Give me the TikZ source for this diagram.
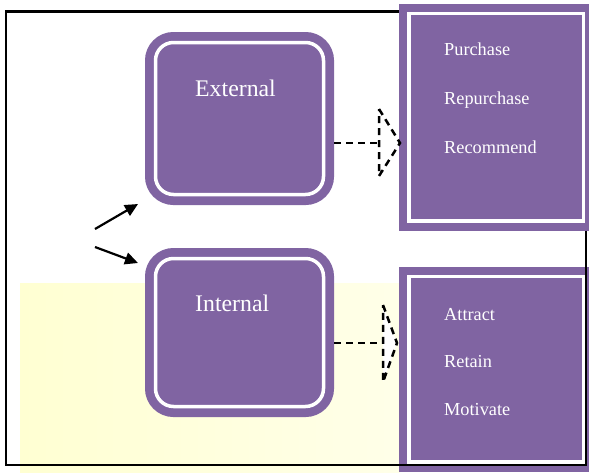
\documentclass[tikz,border=0pt]{standalone}
\usepackage{fontspec}
\setmainfont{Liberation Serif}
\usetikzlibrary{arrows.meta, positioning, calc}
\definecolor{boxpurple}{RGB}{128,100,162}
\definecolor{paleyellow}{RGB}{255,255,210}
\tikzset{
  roundbox/.style={draw=white, line width=3.5pt, fill=boxpurple, rounded corners=18pt,
    outer sep=10.5pt, preaction={draw=boxpurple, line width=21pt}},
  listbox/.style={draw=white, line width=3.5pt, fill=boxpurple,
    outer sep=10pt, preaction={draw=boxpurple, line width=20pt}},
  title/.style={text=white, font=\fontsize{23.8}{28}\selectfont, anchor=base west, inner sep=0pt},
  item/.style={text=white, font=\fontsize{18.3}{22}\selectfont, anchor=base west, inner sep=0pt},
  arr/.style={-{Triangle[length=13pt,width=12pt]}, line width=2.2pt},
  dashline/.style={dash pattern=on 7pt off 5pt, line width=2.5pt},
}

\begin{document}
\begin{tikzpicture}[x=1pt, y=-1pt]
  \useasboundingbox (0,0) rectangle (589,472);
  % pale yellow patch behind the lower half
  \fill[left color=paleyellow, right color=paleyellow!50!white] (20,283) rectangle (400,472);
  % the two rounded boxes
  \node[roundbox, minimum width=168pt, minimum height=152pt] (ext) at (239.5,118.5) {};
  \node[roundbox, minimum width=168pt, minimum height=148pt] (int) at (239.5,332.5) {};
  \node[title] (extlbl) at (195,96) {External};
  \node[title] (intlbl) at (195,311) {Internal};
  % lower list box, then the frame, then the upper list box
  \node[listbox, minimum width=174.5pt, minimum height=185.5pt] (keep) at (496.25,369.25) {};
  \foreach \t/\y in {Attract/320, Retain/367, Motivate/415}
    \node[item] (\t) at (444,\y) {\t};
  \draw[line width=2.5pt] (6,11.5) rectangle (586,465);
  \node[listbox, minimum width=174.5pt, minimum height=207.5pt] (buy) at (496.25,117.25) {};
  \foreach \t/\y in {Purchase/55, Repurchase/104, Recommend/153}
    \node[item] (\t) at (444,\y) {\t};
  % arrows into the boxes
  \coordinate (srcA) at (95,229);
  \coordinate (srcB) at (95,247);
  \draw[arr] (srcA) -- ($(ext.south west)+(-7,-1)$);
  \draw[arr] (srcB) -- ($(int.north west)+(-7,15)$);
  % dashed links with open heads
  \coordinate (tipA) at (400,143);
  \coordinate (tipB) at (397,343);
  \draw[dashline] (ext.east |- tipA) -- ($(tipA)+(-21,0)$);
  \draw[dashline, fill=white] ($(tipA)+(-21,-34)$) -- (tipA) -- ($(tipA)+(-21,33)$) -- cycle;
  \draw[dashline] (int.east |- tipB) -- ($(tipB)+(-14,0)$);
  \draw[dashline, fill=white] ($(tipB)+(-14,-38)$) -- (tipB) -- ($(tipB)+(-14,39)$) -- cycle;
\end{tikzpicture}
\end{document}
